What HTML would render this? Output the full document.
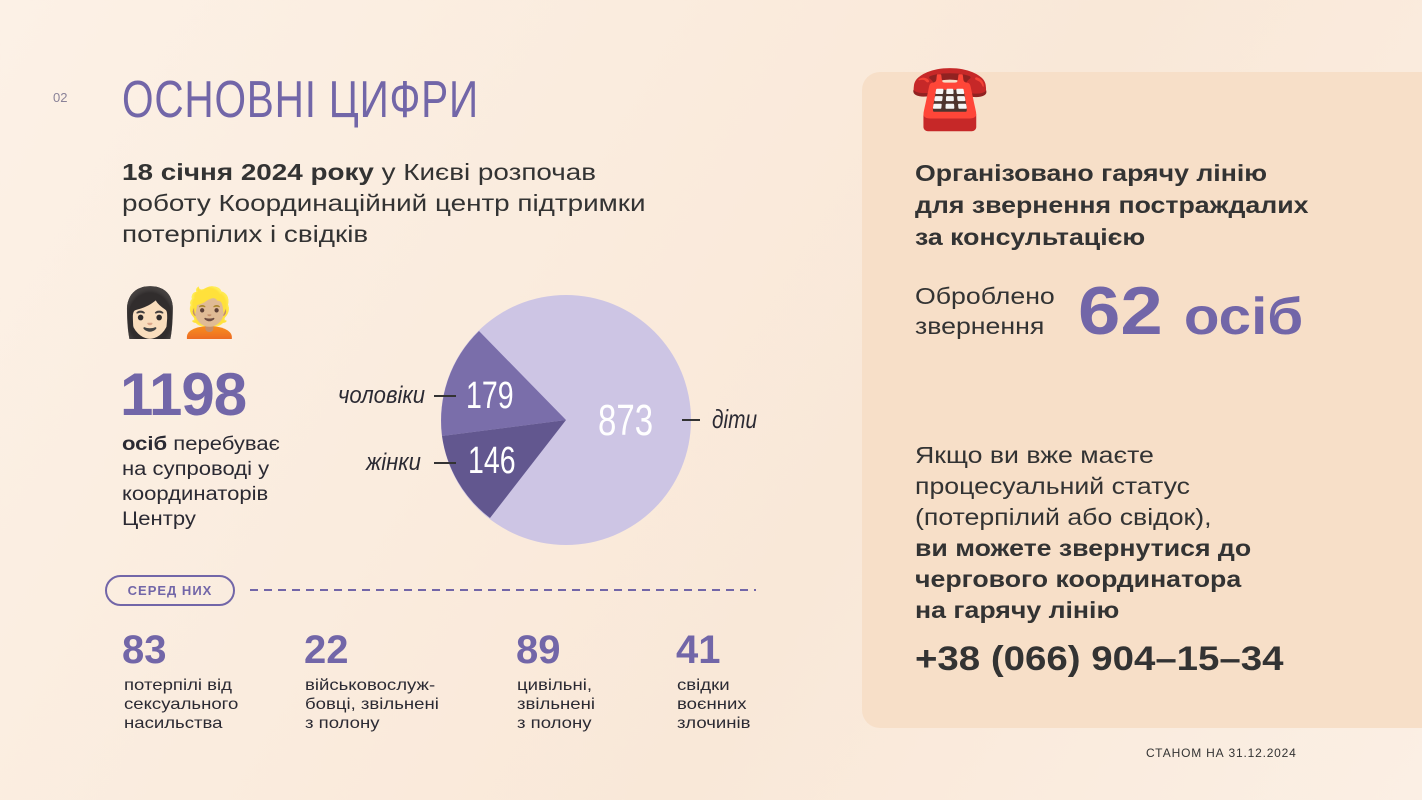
<!DOCTYPE html>
<html><head><meta charset="utf-8"><style>
body{margin:0;width:1422px;height:800px;overflow:hidden;background:linear-gradient(120deg,#fcf1e6,#f9e8d8 60%,#fbefe4);font-family:"Liberation Sans","Noto Sans CJK SC",sans-serif;color:#2b2a33;position:relative}
.a{position:absolute}
.w{transform:scaleX(1.16);transform-origin:left top}
.pur{color:#7266a8}
.card{left:862px;top:72px;width:580px;height:656px;border-radius:18px;background:#f7dfc8}
.hand{font-family:"Liberation Sans Narrow","Liberation Sans",sans-serif;font-style:italic}
</style></head><body>
<div class="a" style="left:53px;top:90px;font-size:13px;color:#8a8298">02</div>
<div class="a pur" style="left:122px;top:70px;font-size:52px;letter-spacing:1px;transform:scaleX(0.78);transform-origin:left">ОСНОВНІ ЦИФРИ</div>
<div class="a" style="left:122px;top:157px;font-size:23px;line-height:31px;color:#333;transform:scaleX(1.21);transform-origin:left top"><b>18 січня 2024 року</b> у Києві розпочав<br>роботу Координаційний центр підтримки<br>потерпілих і свідків</div>
<div class="a" style="left:120px;top:284px;font-size:48px">👩🏻👱🏼</div>
<div class="a pur" style="left:120px;top:360px;font-size:60px;font-weight:bold;letter-spacing:-1px">1198</div>
<div class="a w" style="left:122px;top:432px;font-size:19px;line-height:25px"><b>осіб</b> перебуває<br>на супроводі у<br>координаторів<br>Центру</div>
<svg class="a" style="left:0;top:0" width="1422" height="800">
<circle cx="566" cy="420" r="125" fill="#cdc5e4"/>
<path d="M566 420 L479 331 A125 125 0 0 0 442 436 Z" fill="#7a6eaa"/>
<path d="M566 420 L442 436 A125 125 0 0 0 490 518 Z" fill="#62578f"/>
<g stroke="#333" stroke-width="2"><line x1="434" y1="396" x2="456" y2="396"/><line x1="434" y1="463" x2="456" y2="463"/><line x1="682" y1="420" x2="700" y2="420"/></g>
<line x1="250" y1="590" x2="756" y2="590" stroke="#7266a8" stroke-width="2" stroke-dasharray="8 6"/>
<line x1="912" y1="392" x2="1318" y2="392" stroke="#eeae88" stroke-width="2" stroke-dasharray="7 6"/>
</svg>
<div class="a hand" style="left:338px;top:382px;font-size:24px;transform:scaleX(.92);transform-origin:left">чоловіки</div>
<div class="a hand" style="left:366px;top:449px;font-size:24px;transform:scaleX(.92);transform-origin:left">жінки</div>
<div class="a hand" style="left:712px;top:404px;font-size:26px;transform:scaleX(.8);transform-origin:left">діти</div>
<div class="a" style="left:466px;top:375px;font-size:38px;color:#fff;transform:scaleX(.75);transform-origin:left">179</div>
<div class="a" style="left:468px;top:440px;font-size:38px;color:#fff;transform:scaleX(.75);transform-origin:left">146</div>
<div class="a" style="left:598px;top:396px;font-size:44px;color:#fff;transform:scaleX(.75);transform-origin:left">873</div>
<div class="a pur" style="left:105px;top:575px;width:126px;height:27px;border:2px solid #7266a8;border-radius:16px;font-size:13px;font-weight:bold;text-align:center;line-height:27px;letter-spacing:1px">СЕРЕД НИХ</div>
<div class="a pur" style="left:122px;top:628px;font-size:40px;font-weight:bold">83</div>
<div class="a pur" style="left:304px;top:628px;font-size:40px;font-weight:bold">22</div>
<div class="a pur" style="left:516px;top:628px;font-size:40px;font-weight:bold">89</div>
<div class="a pur" style="left:676px;top:628px;font-size:40px;font-weight:bold">41</div>
<div class="a w" style="left:124px;top:676px;font-size:16px;line-height:19px">потерпілі від<br>сексуального<br>насильства</div>
<div class="a w" style="left:305px;top:676px;font-size:16px;line-height:19px">військовослуж-<br>бовці, звільнені<br>з полону</div>
<div class="a w" style="left:517px;top:676px;font-size:16px;line-height:19px">цивільні,<br>звільнені<br>з полону</div>
<div class="a w" style="left:677px;top:676px;font-size:16px;line-height:19px">свідки<br>воєнних<br>злочинів</div>
<div class="a card"></div>
<div class="a" style="left:910px;top:56px;font-size:64px;line-height:80px">☎️</div>
<div class="a w" style="left:915px;top:157px;font-size:23px;line-height:32px;font-weight:bold;color:#333">Організовано гарячу лінію<br>для звернення постраждалих<br>за консультацією</div>
<div class="a w" style="left:915px;top:281px;font-size:23px;line-height:30px;color:#333">Оброблено<br>звернення</div>
<div class="a pur" style="left:1078px;top:272px;font-size:68px;font-weight:bold;transform:scaleX(1.12);transform-origin:left">62 <span style="font-size:52px">осіб</span></div>
<div class="a w" style="left:915px;top:440px;font-size:23px;line-height:31px;color:#333">Якщо ви вже маєте<br>процесуальний статус<br>(потерпілий або свідок),<br><b>ви можете звернутися до<br>чергового координатора<br>на гарячу лінію</b></div>
<div class="a" style="left:915px;top:640px;font-size:34px;font-weight:bold;color:#333;transform:scaleX(1.13);transform-origin:left">+38 (066) 904–15–34</div>
<div class="a" style="left:1146px;top:746px;font-size:12px;letter-spacing:.8px;color:#333">СТАНОМ НА 31.12.2024</div>
</body></html>
